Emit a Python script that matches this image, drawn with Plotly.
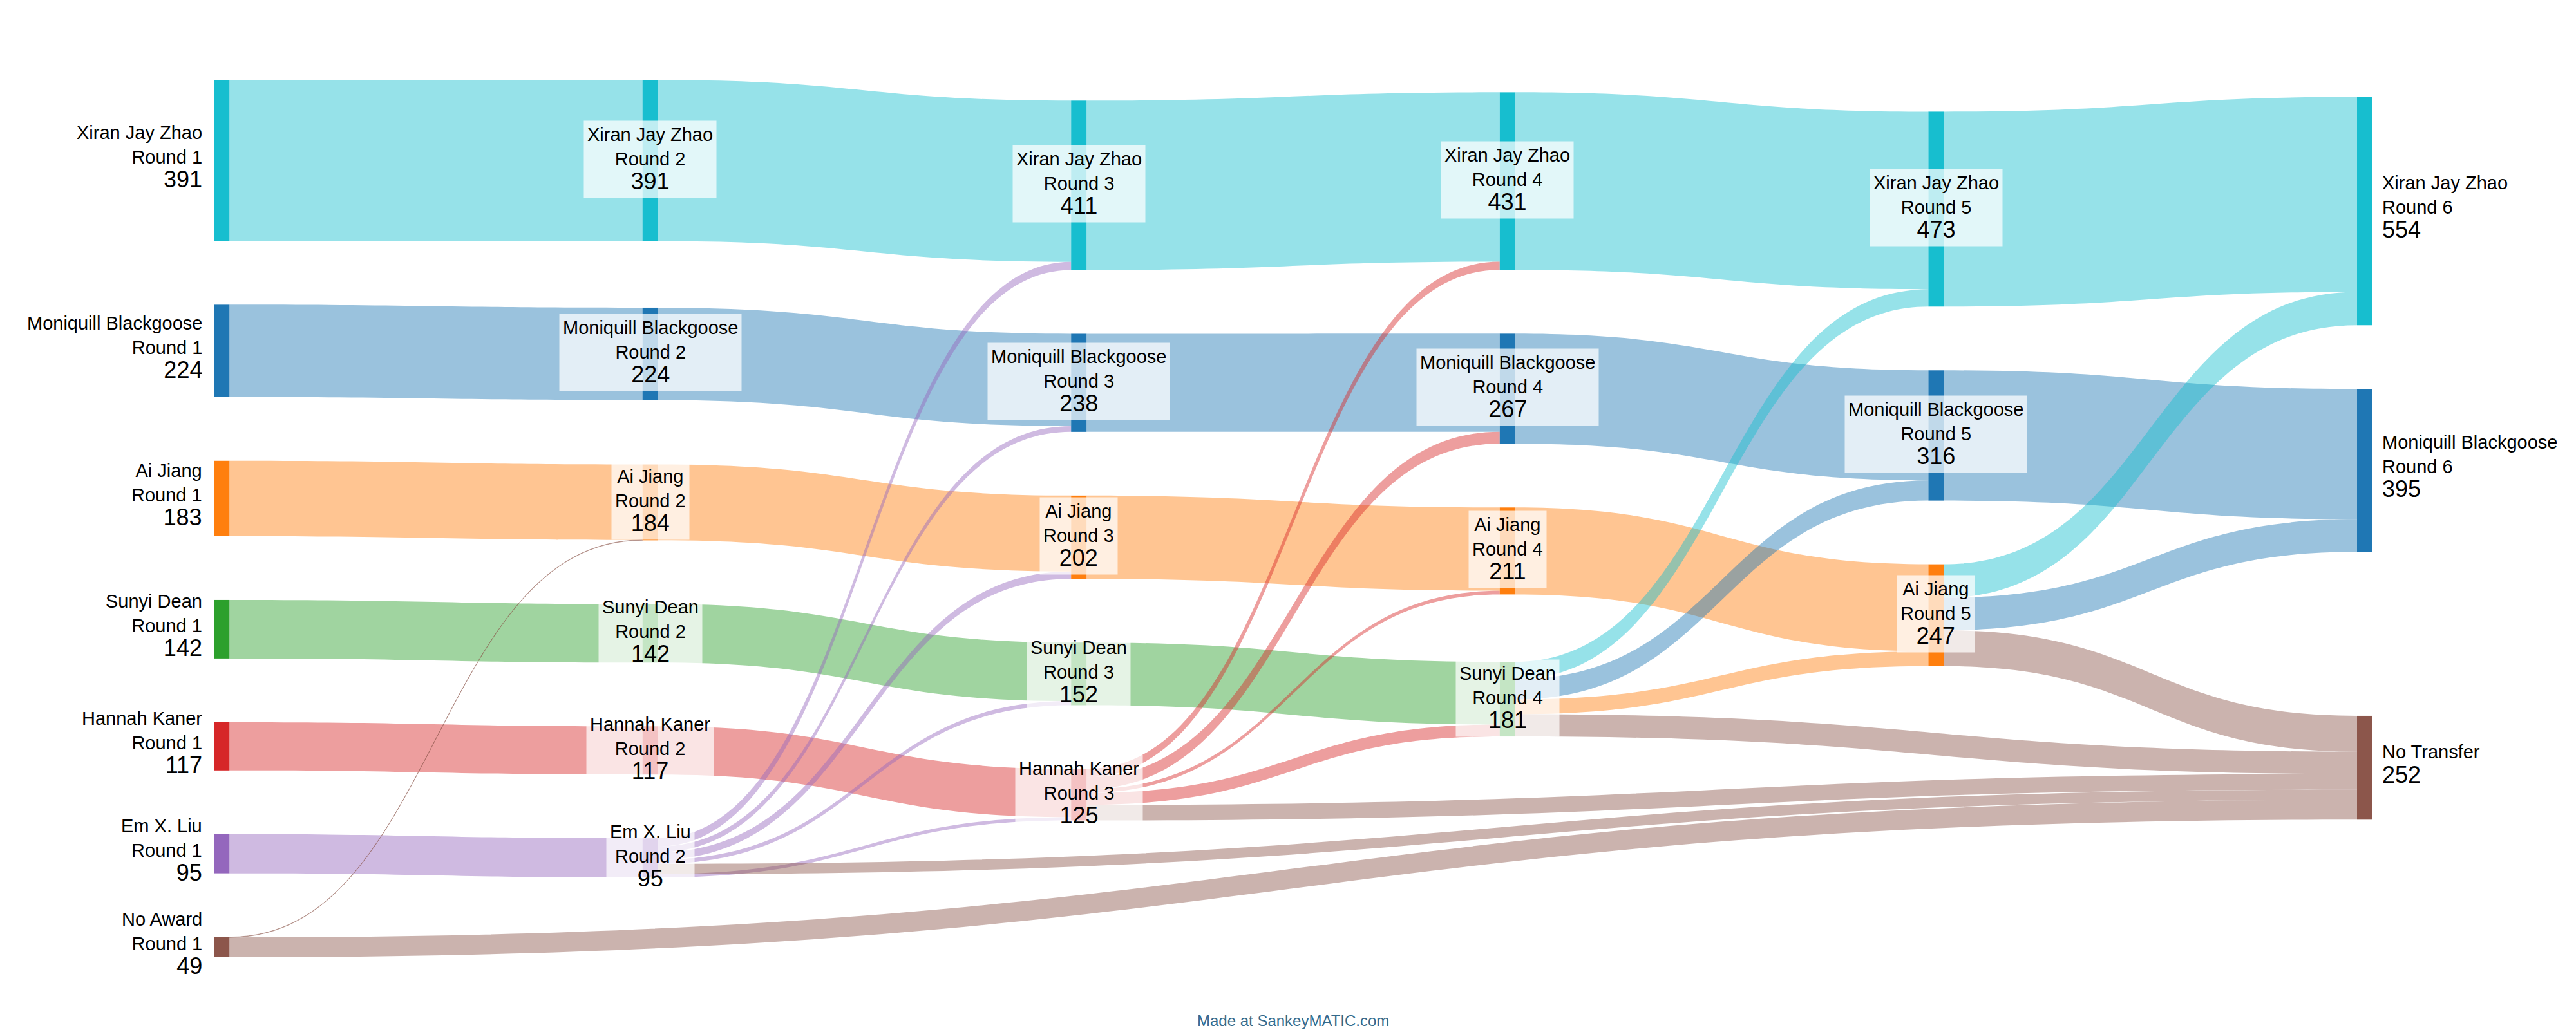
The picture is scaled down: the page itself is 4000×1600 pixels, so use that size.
import plotly.graph_objects as go

# ---------------- data ----------------
candidates = ["Xiran Jay Zhao", "Moniquill Blackgoose", "Ai Jiang",
              "Sunyi Dean", "Hannah Kaner", "Em X. Liu", "No Award"]
round1 = [391, 224, 183, 142, 117, 95, 49]
round2 = [391, 224, 184, 142, 117, 95]
round3 = [411, 238, 202, 152, 125]
round4 = [431, 267, 211, 181]
round5 = [473, 316, 247]
round6 = [554, 395]
rounds = [round1, round2, round3, round4, round5, round6]
no_transfer_label = "No Transfer"
no_transfer_total = 252

# (from round, from candidate, to candidate, votes, colour key)
transfers = [
    (1, "No Award", "Ai Jiang", 1, "No Award"),
    (1, "No Award", "No Transfer", 48, "No Award"),
    (2, "Em X. Liu", "Xiran Jay Zhao", 20, "Em X. Liu"),
    (2, "Em X. Liu", "Moniquill Blackgoose", 14, "Em X. Liu"),
    (2, "Em X. Liu", "Ai Jiang", 18, "Em X. Liu"),
    (2, "Em X. Liu", "Sunyi Dean", 10, "Em X. Liu"),
    (2, "Em X. Liu", "Hannah Kaner", 8, "Em X. Liu"),
    (2, "Em X. Liu", "No Transfer", 25, "No Award"),
    (3, "Hannah Kaner", "Xiran Jay Zhao", 20, "Hannah Kaner"),
    (3, "Hannah Kaner", "Moniquill Blackgoose", 29, "Hannah Kaner"),
    (3, "Hannah Kaner", "Ai Jiang", 9, "Hannah Kaner"),
    (3, "Hannah Kaner", "Sunyi Dean", 29, "Hannah Kaner"),
    (3, "Hannah Kaner", "No Transfer", 38, "No Award"),
    (4, "Sunyi Dean", "Xiran Jay Zhao", 42, "Xiran Jay Zhao"),
    (4, "Sunyi Dean", "Moniquill Blackgoose", 49, "Moniquill Blackgoose"),
    (4, "Sunyi Dean", "Ai Jiang", 36, "Ai Jiang"),
    (4, "Sunyi Dean", "No Transfer", 54, "No Award"),
    (5, "Ai Jiang", "Xiran Jay Zhao", 81, "Xiran Jay Zhao"),
    (5, "Ai Jiang", "Moniquill Blackgoose", 79, "Moniquill Blackgoose"),
    (5, "Ai Jiang", "No Transfer", 87, "No Award"),
]

colors = {
    "Xiran Jay Zhao": (23, 190, 207),
    "Moniquill Blackgoose": (31, 119, 180),
    "Ai Jiang": (255, 127, 14),
    "Sunyi Dean": (44, 160, 44),
    "Hannah Kaner": (214, 39, 40),
    "Em X. Liu": (148, 103, 189),
    "No Award": (140, 86, 75),
}

# ---------------- style / geometry ----------------
FIG_W, FIG_H = 4000, 1600
M_L, M_R, M_T, M_B = 336, 336, 116, 121
PLOT_H = FIG_H - M_T - M_B
PLOT_W = FIG_W - M_L - M_R
PAD = 99
THICK = 24
ITERATIONS = 6
LINK_ALPHA = 0.45
NAME_SIZE = 29
VALUE_SIZE = 36
FONT = "Liberation Sans, Arial, Helvetica, sans-serif"

# ---------------- build nodes & links ----------------
node_name, node_round, node_value, node_layer = [], [], [], []
index = {}
for r, totals in enumerate(rounds, start=1):
    for k, v in enumerate(totals):
        index[(r, candidates[k])] = len(node_name)
        node_name.append(candidates[k])
        node_round.append(r)
        node_value.append(v)
        node_layer.append(r - 1)
index[("end", no_transfer_label)] = len(node_name)
node_name.append(no_transfer_label)
node_round.append(None)
node_value.append(no_transfer_total)
node_layer.append(len(rounds) - 1)

links = []  # (source, target, value, colour key)
for r in range(1, len(rounds)):
    for k in range(len(rounds[r])):
        name = candidates[k]
        links.append((index[(r, name)], index[(r + 1, name)], rounds[r - 1][k], name))
for (r, a, b, v, ck) in transfers:
    tgt = index[("end", b)] if b == no_transfer_label else index[(r + 1, b)]
    links.append((index[(r, a)], tgt, v, ck))


# ---------------- sankey-style vertical layout (input order kept) ----------------
def compute_layout(values, lks, layers, height, pad, iterations):
    n = len(values)
    ncol = max(layers) + 1
    cols = [[i for i in range(n) if layers[i] == c] for c in range(ncol)]
    src = [[] for _ in range(n)]
    tgt = [[] for _ in range(n)]
    for li, l in enumerate(lks):
        src[l[0]].append(li)
        tgt[l[1]].append(li)
    py = min(pad, height / (max(len(c) for c in cols) - 1))
    ky = min((height - (len(c) - 1) * py) / sum(values[i] for i in c) for c in cols)
    lw = [l[2] * ky for l in lks]
    y0 = [0.0] * n
    y1 = [0.0] * n
    for c in cols:
        y = 0.0
        for i in c:
            y0[i] = y
            y1[i] = y + values[i] * ky
            y = y1[i] + py
        extra = (height - y + py) / (len(c) + 1)
        for k, i in enumerate(c):
            y0[i] += extra * (k + 1)
            y1[i] += extra * (k + 1)

    def sort_src(i):
        src[i].sort(key=lambda li: (y0[lks[li][1]], li))

    def sort_tgt(i):
        tgt[i].sort(key=lambda li: (y0[lks[li][0]], li))

    for i in range(n):
        sort_src(i)
        sort_tgt(i)

    def reorder_node_links(i):
        for li in tgt[i]:
            sort_src(lks[li][0])
        for li in src[i]:
            sort_tgt(lks[li][1])

    # ideal source.y0 for a straight link source -> target
    def source_top(s, t):
        y = y0[t]
        for li in tgt[t]:
            if lks[li][0] == s:
                break
            y += lw[li]
        for li in src[s]:
            if lks[li][1] == t:
                break
            y -= lw[li]
        return y

    # ideal target.y0 for a straight link source -> target
    def target_top(s, t):
        y = y0[s]
        for li in src[s]:
            if lks[li][1] == t:
                break
            y += lw[li]
        for li in tgt[t]:
            if lks[li][0] == s:
                break
            y -= lw[li]
        return y

    def top_to_bottom(col, y, i, alpha):
        while i < len(col):
            nd = col[i]
            dy = (y - y0[nd]) * alpha
            if dy > 1e-6:
                y0[nd] += dy
                y1[nd] += dy
            y = y1[nd] + py
            i += 1

    def bottom_to_top(col, y, i, alpha):
        while i >= 0:
            nd = col[i]
            dy = (y1[nd] - y) * alpha
            if dy > 1e-6:
                y0[nd] -= dy
                y1[nd] -= dy
            y = y0[nd] - py
            i -= 1

    def resolve(col, alpha):
        m = len(col) >> 1
        subj = col[m]
        bottom_to_top(col, y0[subj] - py, m - 1, alpha)
        top_to_bottom(col, y1[subj] + py, m + 1, alpha)
        bottom_to_top(col, height, len(col) - 1, alpha)
        top_to_bottom(col, 0.0, 0, alpha)

    for it in range(iterations):
        alpha = 0.99 ** it
        beta = max(1 - alpha, (it + 1) / iterations)
        for c in range(ncol - 2, -1, -1):
            col = cols[c]
            for s in col:
                ww = sum(lks[li][2] for li in src[s])
                if ww <= 0:
                    continue
                yy = sum(source_top(s, lks[li][1]) * lks[li][2] for li in src[s])
                dy = (yy / ww - y0[s]) * alpha
                y0[s] += dy
                y1[s] += dy
                reorder_node_links(s)
            resolve(col, beta)
        for c in range(1, ncol):
            col = cols[c]
            for t in col:
                ww = sum(lks[li][2] for li in tgt[t])
                if ww <= 0:
                    continue
                yy = sum(target_top(lks[li][0], t) * lks[li][2] for li in tgt[t])
                dy = (yy / ww - y0[t]) * alpha
                y0[t] += dy
                y1[t] += dy
                reorder_node_links(t)
            resolve(col, beta)
    return y0, y1


y0, y1 = compute_layout(node_value, links, node_layer, PLOT_H, PAD, ITERATIONS)
ncols = max(node_layer)
node_x = [max(l / ncols, 1e-4) for l in node_layer]
node_cy = [(a + b) / 2 for a, b in zip(y0, y1)]
node_y = [c / PLOT_H for c in node_cy]


def rgba(key, a):
    r, g, b = colors[key]
    return f"rgba({r},{g},{b},{a})"


node_colors = [rgba("No Award" if nm == no_transfer_label else nm, 1) for nm in node_name]
link_colors = [rgba(l[3], LINK_ALPHA) for l in links]

fig = go.Figure(go.Sankey(
    arrangement="fixed",
    node=dict(
        pad=PAD, thickness=THICK,
        x=node_x, y=node_y,
        color=node_colors,
        line=dict(width=0),
        label=[""] * len(node_name),
        hoverinfo="none",
    ),
    link=dict(
        source=[l[0] for l in links],
        target=[l[1] for l in links],
        value=[l[2] for l in links],
        color=link_colors,
        hoverinfo="none",
    ),
))

# ---------------- node labels ----------------
annotations = []
for i, nm in enumerate(node_name):
    lines = [nm]
    if node_round[i] is not None:
        lines.append(f"Round {node_round[i]}")
    lines.append(f"<span style='font-size:{VALUE_SIZE}px'>{node_value[i]}</span>")
    text = "<br>".join(lines)
    ay = 1 - node_cy[i] / PLOT_H
    ann = dict(x=node_x[i], y=ay, xref="paper", yref="paper", text=text,
               showarrow=False, yanchor="middle", yshift=5,
               font=dict(family=FONT, size=NAME_SIZE, color="#000000"))
    if node_layer[i] == 0:
        ann.update(xanchor="right", align="right", xshift=-(THICK / 2 + 16))
    elif node_layer[i] == ncols:
        ann.update(xanchor="left", align="left", xshift=(THICK / 2 + 13))
    else:
        ann.update(xanchor="center", align="center", yshift=2,
                   bgcolor="rgba(255,255,255,0.72)", borderpad=5)
    annotations.append(ann)

annotations.append(dict(
    x=0.5, y=1 - (1577 - M_T) / PLOT_H,
    xref="paper", yref="paper", showarrow=False,
    text="Made at SankeyMATIC.com",
    font=dict(family=FONT, size=24, color="#336a8c"),
    xanchor="center", yanchor="middle",
))

fig.update_layout(
    width=FIG_W, height=FIG_H,
    margin=dict(l=M_L, r=M_R, t=M_T, b=M_B),
    paper_bgcolor="white", plot_bgcolor="white",
    font=dict(family=FONT),
    annotations=annotations,
)

fig.write_html("out.html")
